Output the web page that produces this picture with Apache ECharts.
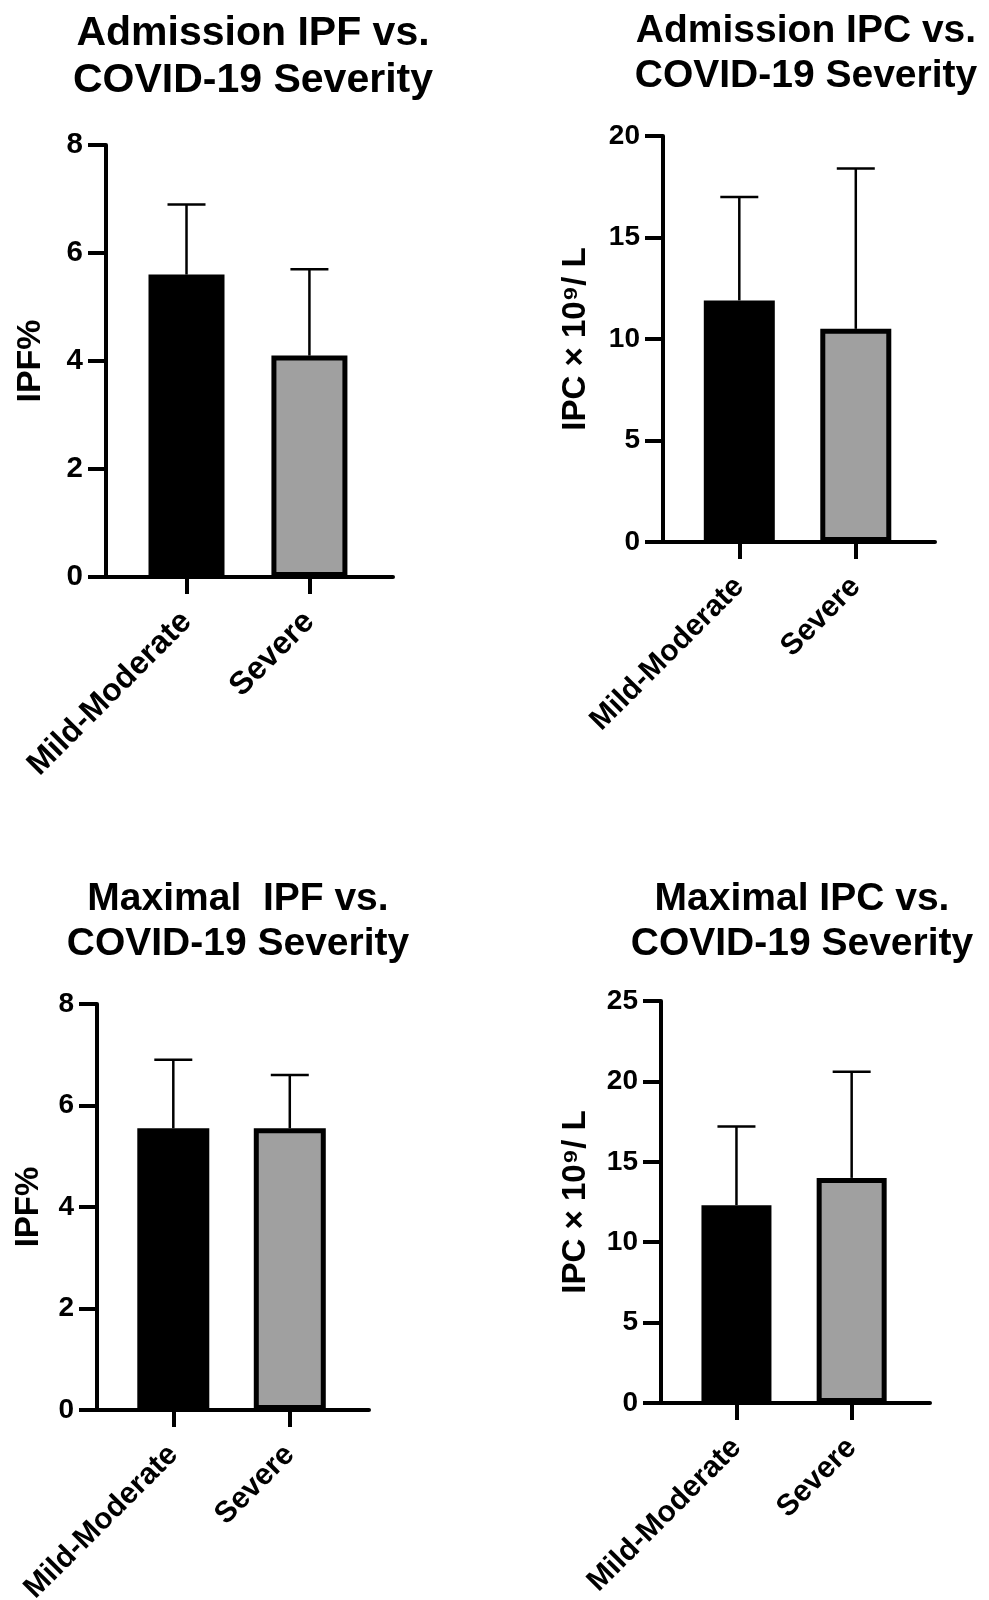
<!DOCTYPE html>
<html>
<head>
<meta charset="utf-8">
<style>
  html, body { margin: 0; padding: 0; background: #fff; }
  #chartContainer { width: 989px; height: 1600px; }
</style>
<script src="https://cdn.jsdelivr.net/npm/echarts@6/dist/echarts.min.js"></script>
</head>
<body>
<div id="chartContainer"></div>
<script>
// data (mean + upper SD)
const categories = ['Mild-Moderate', 'Severe'];
const barColors = ['#000000', '#a0a0a0'];

const admIpfMean = [5.6, 4.1];
const admIpfUpper = [6.9, 5.7];
const admIpcMean = [11.9, 10.5];
const admIpcUpper = [17.0, 18.4];
const maxIpfMean = [5.55, 5.55];
const maxIpfUpper = [6.9, 6.6];
const maxIpcMean = [12.3, 14.0];
const maxIpcUpper = [17.2, 20.6];

const titles = [
    'Admission IPF vs.\nCOVID-19 Severity',
    'Admission IPC vs.\nCOVID-19 Severity',
    'Maximal  IPF vs.\nCOVID-19 Severity',
    'Maximal IPC vs.\nCOVID-19 Severity'
];
const yNames = ['IPF%', 'IPC \u00d7 10\u2079/ L', 'IPF%', 'IPC \u00d7 10\u2079/ L'];
const yMax = [8, 20, 8, 25];
const yStep = [2, 5, 2, 5];

const panels = [
    {mean: admIpfMean, upper: admIpfUpper},
    {mean: admIpcMean, upper: admIpcUpper},
    {mean: maxIpfMean, upper: maxIpfUpper},
    {mean: maxIpcMean, upper: maxIpcUpper}
];

// layout (first panel is drawn slightly larger in the original)
const grids = [
    {left: 106, top: 145, width: 287, height: 432},
    {left: 663, top: 136, width: 272, height: 406},
    {left: 97, top: 1004, width: 272, height: 406},
    {left: 661, top: 1001, width: 269, height: 402}
];
const titlePos = [
    {x: 248, y: 5}, {x: 801, y: 4}, {x: 233, y: 872}, {x: 797, y: 872}
];
const titleSize = [41, 39, 39, 39];
const titleLine = [47, 45, 45, 45];
const tickSize = [29.5, 28, 28, 28];
const catSize = [32, 30, 30, 30];
const nameSize = [34, 33, 33, 33];
const barWidths = [76, 71, 72, 70];
const nameGaps = [58, 71, 52, 69];

const chartDom = document.getElementById('chartContainer');
const myChart = echarts.init(chartDom);

const font = 'Liberation Sans';

let option = {
    animation: false,
    title: [],
    grid: [],
    xAxis: [],
    yAxis: [],
    series: []
};

panels.forEach((p, i) => {
    option.title.push({
        text: titles[i],
        left: titlePos[i].x,
        top: titlePos[i].y,
        textAlign: 'center',
        textStyle: {
            fontFamily: font, fontWeight: 'bold', fontSize: titleSize[i],
            lineHeight: titleLine[i], color: '#000'
        }
    });
    option.grid.push(Object.assign({containLabel: false, outerBoundsMode: 'none'}, grids[i]));
    option.xAxis.push({
        type: 'value',
        gridIndex: i,
        min: 0.345,
        max: 2.68,
        splitLine: {show: false},
        axisLine: {show: true, onZero: false, lineStyle: {color: '#000', width: 4}},
        axisTick: {show: true, customValues: [1, 2], length: 17, lineStyle: {color: '#000', width: 4}},
        axisLabel: {
            customValues: [1, 2],
            formatter: v => categories[Math.round(v) - 1],
            rotate: 45,
            margin: 40,
            fontFamily: font, fontWeight: 'bold', fontSize: catSize[i], color: '#000'
        }
    });
    option.yAxis.push({
        type: 'value',
        gridIndex: i,
        min: 0,
        max: yMax[i],
        interval: yStep[i],
        name: yNames[i],
        nameLocation: 'middle',
        nameGap: nameGaps[i],
        nameTextStyle: {
            fontFamily: font, fontWeight: 'bold', fontSize: nameSize[i], color: '#000'
        },
        splitLine: {show: false},
        axisLine: {show: true, lineStyle: {color: '#000', width: 4}},
        axisTick: {show: true, length: 18, lineStyle: {color: '#000', width: 4}},
        axisLabel: {
            margin: 23,
            fontFamily: font, fontWeight: 'bold', fontSize: tickSize[i], color: '#000'
        }
    });
    option.series.push({
        type: 'bar',
        xAxisIndex: i,
        yAxisIndex: i,
        barWidth: barWidths[i],
        data: p.mean.map((m, k) => ({
            value: [k + 1, m],
            itemStyle: {color: barColors[k], borderColor: '#000', borderWidth: 5}
        }))
    });
    // error bars: upper whisker only
    option.series.push({
        type: 'custom',
        xAxisIndex: i,
        yAxisIndex: i,
        z: 3,
        data: p.mean.map((m, k) => [k + 1, m, p.upper[k]]),
        renderItem: function (params, api) {
            const base = api.coord([api.value(0), api.value(1)]);
            const top = api.coord([api.value(0), api.value(2)]);
            return {
                type: 'group',
                children: [
                    {type: 'line', shape: {x1: base[0], y1: base[1], x2: top[0], y2: top[1]},
                        style: {stroke: '#000', lineWidth: 2.5}},
                    {type: 'line', shape: {x1: top[0] - 19, y1: top[1], x2: top[0] + 19, y2: top[1]},
                        style: {stroke: '#000', lineWidth: 2.5}}
                ]
            };
        }
    });
});

myChart.setOption(option);
</script>
</body>
</html>
